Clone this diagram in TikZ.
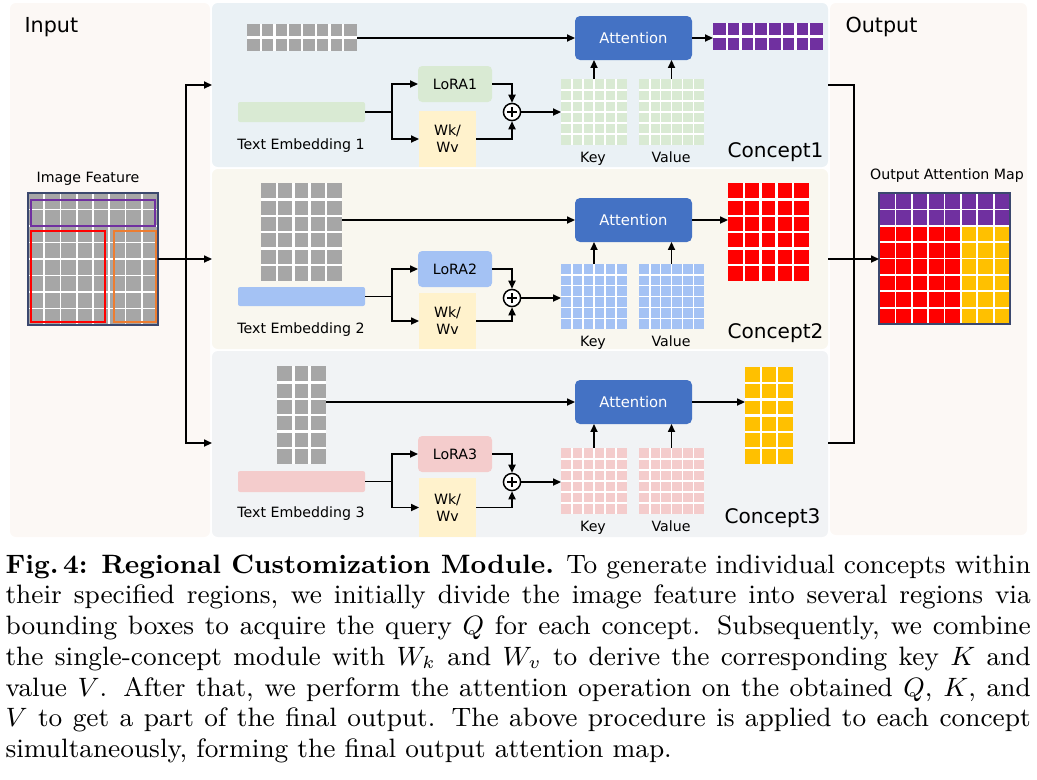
\documentclass[tikz,border=0pt]{standalone}
\usepackage{fontspec}
\newfontfamily\dfont{DejaVu Sans}
\usetikzlibrary{arrows.meta,calc,fit}

\definecolor{bgwarm}{RGB}{252,248,245}
\definecolor{pbA}{RGB}{234,241,245}
\definecolor{pbB}{RGB}{249,247,239}
\definecolor{pbC}{RGB}{241,243,245}
\definecolor{cgray}{RGB}{166,166,166}
\definecolor{cgreen}{RGB}{217,234,211}
\definecolor{cblue}{RGB}{164,194,244}
\definecolor{cpink}{RGB}{244,204,204}
\definecolor{cyel}{RGB}{255,242,204}
\definecolor{catt}{RGB}{68,114,196}
\definecolor{cpur}{RGB}{112,48,160}
\definecolor{cred}{RGB}{255,0,0}
\definecolor{cgold}{RGB}{255,192,0}
\definecolor{cnavy}{RGB}{59,72,110}
\definecolor{corg}{RGB}{237,125,49}

\tikzset{
  box/.style={inner sep=0pt, outer sep=0pt},
  panel/.style={box, rounded corners=2pt},
  txt/.style={font=\dfont\fontsize{4.8}{5.8}\selectfont, inner sep=0pt, text=black},
  atxt/.style={font=\dfont\fontsize{5}{6}\selectfont, inner sep=0pt, text=white},
  ttl/.style={font=\dfont\fontsize{7}{8}\selectfont, inner sep=0pt},
  ctxt/.style={font=\dfont\fontsize{6.8}{8}\selectfont, inner sep=0pt},
  attbox/.style={box, fill=catt, rounded corners=1.7pt},
  lorabox/.style={box, rounded corners=1.4pt},
  wkbox/.style={box, fill=cyel},
  bar/.style={box, rounded corners=0.7pt},
  ln/.style={line width=0.5pt, draw=black},
  arr/.style={ln, -{Triangle[length=2.7pt,width=2.4pt]}},
  plusc/.style={circle, draw=black, fill=white, line width=0.5pt, minimum size=5.8pt, inner sep=0pt,
    path picture={
      \draw[line width=0.9pt] ([xshift=-1.7pt]path picture bounding box.center) -- ([xshift=1.7pt]path picture bounding box.center);
      \draw[line width=0.9pt] ([yshift=-1.7pt]path picture bounding box.center) -- ([yshift=1.7pt]path picture bounding box.center);
    }},
  cells/.style n args={3}{path picture={
    \pgfmathtruncatemacro\nc{#1-1}\pgfmathtruncatemacro\nr{#2-1}
    \path (path picture bounding box.south west) coordinate (cSW)
          (path picture bounding box.north east) coordinate (cNE);
    \foreach \i in {1,...,\nc}
      \draw[white, line width=#3] ($(cSW)!\i/#1!(cSW-|cNE)$) -- ($(cNE-|cSW)!\i/#1!(cNE)$);
    \foreach \j in {1,...,\nr}
      \draw[white, line width=#3] ($(cSW)!\j/#2!(cNE-|cSW)$) -- ($(cSW-|cNE)!\j/#2!(cNE)$);
  }},
  outmap/.style={path picture={
    \path (path picture bounding box.south west) coordinate (mSW)
          (path picture bounding box.north east) coordinate (mNE);
    \fill[cpur] (mNE-|mSW) rectangle ($(mSW-|mNE)!0.75!(mNE)$);
    \fill[cgold] ($(mSW)!0.625!(mSW-|mNE)$) rectangle ($(mSW-|mNE)!0.75!(mNE)$);
    \foreach \i in {1,...,7}{
      \draw[white, line width=0.6pt] ($(mSW)!\i/8!(mSW-|mNE)$) -- ($(mNE-|mSW)!\i/8!(mNE)$);
      \draw[white, line width=0.6pt] ($(mSW)!\i/8!(mNE-|mSW)$) -- ($(mSW-|mNE)!\i/8!(mNE)$);
    }
  }}
}

\begin{document}
\begin{tikzpicture}[x=0.3385pt, y=-0.3385pt]
\useasboundingbox (0,0) rectangle (1037,779);

% ---------- panels ----------
\node[panel, fill=bgwarm, fit={(10,3)(210,537)}] (pin) {};
\node[panel, fill=bgwarm, fit={(830,3)(1027,535)}] (pout) {};
\node[panel, fill=pbA, fit={(212,3)(828,167)}] (p1) {};
\node[panel, fill=pbB, fit={(212,169)(828,349)}] (p2) {};
\node[panel, fill=pbC, fit={(212,351)(828,537)}] (p3) {};

% ---------- input / output ----------
\node[ttl, anchor=base west] (tin) at (24,32) {Input};
\node[ttl, anchor=base west] (tout) at (845,32) {Output};
\node[txt, anchor=base] (timg) at (88,182) {Image Feature};
\node[txt, anchor=base] (tmap) at (947,179) {Output Attention Map};

\node[box, fill=cgray, draw=cnavy, line width=0.4pt, cells={8}{8}{0.6pt}, fit={(28,193)(158,325)}] (imgf) {};
\node[box, draw=cpur, line width=0.4pt, fit={(31,200)(155,226)}] (rgp) {};
\node[box, draw=cred, line width=0.4pt, fit={(31,231)(105,322)}] (rgr) {};
\node[box, draw=corg, line width=0.4pt, fit={(114,231)(156,322)}] (rgo) {};

\node[box, fill=cred, draw=cnavy, line width=0.4pt, outmap, fit={(879,193)(1010,324)}] (omap) {};

% ---------- concept 1 ----------
\node[box, fill=cgray, cells={8}{2}{0.8pt}, fit={(247,24)(357,51)}] (q1) {};
\node[attbox, fit={(575,16)(692,60)}, label={[atxt]center:Attention}] (att1) {};
\node[box, fill=cpur, cells={8}{2}{0.8pt}, fit={(713,23)(823,50)}] (o1) {};
\node[bar, fill=cgreen, fit={(238,102)(365,122)}] (te1) {};
\node[txt, anchor=base] (tl1) at (301,149) {Text Embedding 1};
\node[lorabox, fill=cgreen, fit={(418,66)(492,102)}, label={[txt]center:LoRA1}] (lo1) {};
\node[wkbox, fit={(419,111)(476,167)}, label={[txt,align=center]center:{Wk/\\Wv}}] (wk1) {};
\node[plusc] (pl1) at (512,112) {};
\node[box, fill=cgreen, cells={6}{6}{0.45pt}, fit={(561,79)(627,145)}] (k1) {};
\node[box, fill=cgreen, cells={6}{6}{0.45pt}, fit={(639,79)(704,145)}] (v1) {};
\node[txt, anchor=base] (kl1) at (593,162) {Key};
\node[txt, anchor=base] (vl1) at (671,162) {Value};
\node[ctxt, anchor=base west] (cl1) at (727,157) {Concept1};
\coordinate (br1) at (392,112);

% ---------- concept 2 ----------
\node[box, fill=cgray, cells={5}{6}{0.8pt}, fit={(261,183)(342,281)}] (q2) {};
\node[attbox, fit={(575,198)(692,242)}, label={[atxt]center:Attention}] (att2) {};
\node[box, fill=cred, cells={5}{6}{0.8pt}, fit={(728,183)(809,281)}] (o2) {};
\node[bar, fill=cblue, fit={(238,287)(365,306)}] (te2) {};
\node[txt, anchor=base] (tl2) at (301,333) {Text Embedding 2};
\node[lorabox, fill=cblue, fit={(418,251)(492,287)}, label={[txt]center:LoRA2}] (lo2) {};
\node[wkbox, fit={(419,293)(476,349)}, label={[txt,align=center]center:{Wk/\\Wv}}] (wk2) {};
\node[plusc] (pl2) at (512,298) {};
\node[box, fill=cblue, cells={6}{6}{0.45pt}, fit={(561,264)(627,329)}] (k2) {};
\node[box, fill=cblue, cells={6}{6}{0.45pt}, fit={(639,264)(704,329)}] (v2) {};
\node[txt, anchor=base] (kl2) at (593,346) {Key};
\node[txt, anchor=base] (vl2) at (671,346) {Value};
\node[ctxt, anchor=base west] (cl2) at (727,338) {Concept2};
\coordinate (br2) at (392,296.5);

% ---------- concept 3 ----------
\node[box, fill=cgray, cells={3}{6}{0.8pt}, fit={(277,366)(326,464)}] (q3) {};
\node[attbox, fit={(575,380)(692,424)}, label={[atxt]center:Attention}] (att3) {};
\node[box, fill=cgold, cells={3}{6}{0.8pt}, fit={(745,367)(793,464)}] (o3) {};
\node[bar, fill=cpink, fit={(238,471)(365,492)}] (te3) {};
\node[txt, anchor=base] (tl3) at (301,517) {Text Embedding 3};
\node[lorabox, fill=cpink, fit={(418,436)(492,472)}, label={[txt]center:LoRA3}] (lo3) {};
\node[wkbox, fit={(419,478)(476,537)}, label={[txt,align=center]center:{Wk/\\Wv}}] (wk3) {};
\node[plusc] (pl3) at (512,482) {};
\node[box, fill=cpink, cells={6}{6}{0.45pt}, fit={(561,448)(627,514)}] (k3) {};
\node[box, fill=cpink, cells={6}{6}{0.45pt}, fit={(639,448)(704,514)}] (v3) {};
\node[txt, anchor=base] (kl3) at (593,531) {Key};
\node[txt, anchor=base] (vl3) at (671,531) {Value};
\node[ctxt, anchor=base west] (cl3) at (724,523) {Concept3};
\coordinate (br3) at (392,481.5);

% ---------- concept connectors ----------
\foreach \n in {1,2,3}{
  \draw[arr] (att\n.west -| q\n.east) -- (att\n.west);
  \draw[arr] (att\n.east) -- (att\n.east -| o\n.west);
  \draw[ln] (te\n.east) -- (br\n);
  \draw[arr] (br\n) |- (lo\n.west);
  \draw[arr] (br\n) |- (wk\n.west);
  \draw[arr] (lo\n.east) -| (pl\n.north);
  \draw[arr] (wk\n.east) -| (pl\n.south);
  \draw[arr] (pl\n.east) -- (pl\n.east -| k\n.west);
  \draw[arr] (k\n.north) -- (k\n.north |- att\n.south);
  \draw[arr] (v\n.north) -- (v\n.north |- att\n.south);
}

% ---------- buses ----------
\coordinate (busL) at (186,259);
\coordinate (in1) at (212,85);
\coordinate (in2) at (212,259);
\coordinate (in3) at (212,443);
\draw[arr] (imgf.east |- busL) -- (in2);
\draw[arr] (busL) |- (in1);
\draw[arr] (busL) |- (in3);

\coordinate (busR) at (854,259);
\coordinate (out1) at (828,85);
\coordinate (out2) at (828,259);
\coordinate (out3) at (828,443);
\draw[ln] (out1) -| (busR);
\draw[ln] (out3) -| (busR);
\draw[arr] (out2) -- (out2 -| omap.west);

% ---------- caption ----------
\node[anchor=north west, inner sep=0pt, text width=347pt, align=justify,
      font=\fontsize{9}{10.4}\selectfont] (cap) at (5,554)
{\textbf{Fig.\,4: Regional Customization Module.} To generate individual concepts within\linebreak
their specified regions, we initially divide the image feature into several regions via\linebreak
bounding boxes to acquire the query $Q$ for each concept. Subsequently, we combine\linebreak
the single-concept module with $W_k$ and $W_v$ to derive the corresponding key $K$ and\linebreak
value $V$. After that, we perform the attention operation on the obtained $Q$, $K$, and\linebreak
$V$ to get a part of the final output. The above procedure is applied to each concept\linebreak
simultaneously, forming the final output attention map.};
\end{tikzpicture}
\end{document}
